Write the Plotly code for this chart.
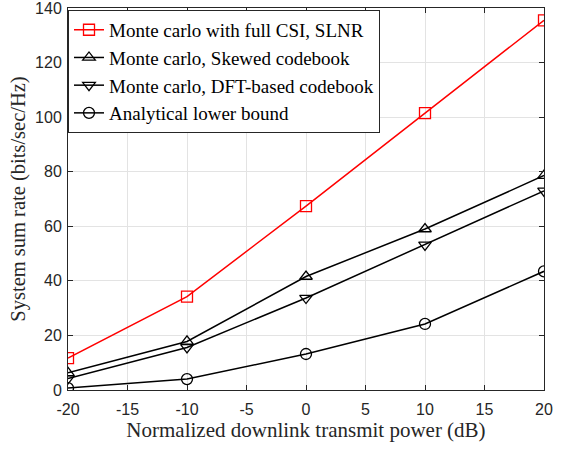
import plotly.graph_objects as go

power_db = [-20, -10, 0, 10, 20]
full_csi = [11.7, 34.2, 67.4, 101.5, 135.5]
skewed = [6.3, 17.8, 41.6, 59.0, 78.6]
dft = [4.2, 15.6, 33.7, 53.2, 73.0]
lower_bound = [0.7, 4.0, 13.2, 24.2, 43.5]

x_ticks = [-20, -15, -10, -5, 0, 5, 10, 15, 20]
x_tick_text = ["-20", "-15", "-10", "-5", "0", "5", "10", "15", "20"]
y_ticks = [0, 20, 40, 60, 80, 100, 120, 140]

names = ["Monte carlo with full CSI, SLNR", "Monte carlo, Skewed codebook",
         "Monte carlo, DFT-based codebook", "Analytical lower bound"]

fig = go.Figure()
series = [(full_csi, "red", "square-open"), (skewed, "black", "triangle-up-open"),
          (dft, "black", "triangle-down-open"), (lower_bound, "black", "circle-open")]
for (vals, col, sym), nm in zip(series, names):
    fig.add_trace(go.Scatter(x=power_db, y=vals, name=nm, mode="lines+markers",
                             line=dict(color=col, width=1.5),
                             marker=dict(symbol=sym, size=11, color=col, line=dict(width=1.3, color=col))))

axis_common = dict(showline=True, linecolor="#262626", linewidth=1, mirror="ticks",
                   ticks="inside", ticklen=5, tickcolor="#262626", showgrid=True,
                   gridcolor="#e3e3e3", gridwidth=1, zeroline=False, automargin=False,
                   ticklabeloverflow="allow",
                   tickfont=dict(family="Liberation Sans, Arial", size=16, color="#262626"))
fig.update_xaxes(range=[-20, 20], tickvals=x_ticks, ticktext=x_tick_text,
                 title_text="Normalized downlink transmit power (dB)",
                 title_font=dict(family="Liberation Serif, Times New Roman", size=21, color="#262626"),
                 title_standoff=2, ticklabelstandoff=5, **axis_common)
fig.update_yaxes(range=[0, 140], tickvals=y_ticks, title_text="System sum rate (bits/sec/Hz)",
                 title_font=dict(family="Liberation Serif, Times New Roman", size=20.5, color="#262626"),
                 title_standoff=3, ticklabelstandoff=2, **axis_common)

fig.update_layout(width=562, height=450, margin=dict(l=68, r=18, t=8, b=60),
                  plot_bgcolor="white", paper_bgcolor="white", showlegend=True,
                  legend=dict(x=0.0, y=0.995, xanchor="left", yanchor="top",
                              bgcolor="white", bordercolor="#262626", borderwidth=1,
                              font=dict(family="Liberation Serif, Times New Roman", size=19, color="black"),
                              tracegroupgap=0, itemwidth=30))
fig.write_html("out.html", config={"displayModeBar": False},
               post_script="document.body.style.margin='0';")
